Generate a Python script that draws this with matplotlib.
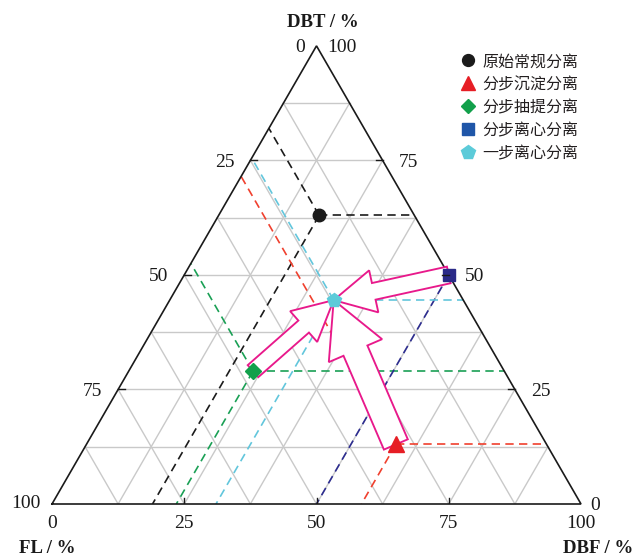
import numpy as np
import matplotlib
matplotlib.use("Agg")
import matplotlib.pyplot as plt
from matplotlib.patches import FancyArrow
from matplotlib.lines import Line2D

# Composition of each separation product (percent)
methods = ["原始常规分离", "分步沉淀分离", "分步抽提分离", "分步离心分离", "一步离心分离"]
dbt = [63.0, 13.0, 29.0, 50.0, 44.5]
fl = [18.0, 28.5, 47.5, 0.0, 24.5]
dbf = [19.0, 58.5, 23.5, 50.0, 31.0]
tick_values = [0, 25, 50, 75, 100]

marker_shapes = ["o", "^", "D", "s", "p"]
marker_sizes = [9.0, 11.0, 8.0, 8.5, 10.5]
marker_colors = ["#1b1b1b", "#e61e25", "#12a04b", "#2a2a88", "#5ccbd9"]
legend_colors = ["#1b1b1b", "#e61e25", "#12a04b", "#1f56a8", "#5ccbd9"]
guide_colors = ["#1b1b1b", "#f0402e", "#1aa055", "#2d2d90", "#62c6dc"]
arrow_color = "#e8198b"

W, H = 643, 556
fig = plt.figure(figsize=(W / 100, H / 100), dpi=100)
XL, XR, YB = 52, 581, 504
S = XR - XL
h = np.sqrt(3) / 2
ax = fig.add_axes([XL / W, (H - YB) / H, S / W, S * h / H])
ax.set_xlim(0, 1)
ax.set_ylim(0, h)
ax.axis("off")
px = 1.0 / S  # one pixel in data units

serif = "Liberation Serif"
cjk = ["Noto Sans CJK SC", "DejaVu Sans"]


def tern(t, f, b):
    """Ternary (DBT, FL, DBF) fractions -> cartesian."""
    return b + t / 2.0, t * h


# frame
ax.plot([0, 1, 0.5, 0], [0, 0, h, 0], color="#1a1a1a", lw=1.2,
        solid_joinstyle="miter", clip_on=False, zorder=3)

# grid every 12.5 %
for k in range(1, 8):
    v = k / 8.0
    gkw = dict(color="#c9c9c9", lw=1.0, zorder=1)
    ax.plot(*zip(tern(v, 1 - v, 0), tern(v, 0, 1 - v)), **gkw)
    ax.plot(*zip(tern(0, 1 - v, v), tern(1 - v, 0, v)), **gkw)
    ax.plot(*zip(tern(0, v, 1 - v), tern(1 - v, v, 0)), **gkw)

# tick marks and labels
tkw = dict(fontsize=14, family=serif, color="#1a1a1a", clip_on=False)
for v in tick_values:
    f = v / 100.0
    # FL along the left edge
    x, y = tern(1 - f, f, 0)
    off = 11 if v in (0, 100) else 16
    ax.text(x - off * px, y + (2 * px if v == 100 else 0), str(v),
            ha="right", va="center_baseline", **tkw)
    # DBT along the right edge
    x, y = tern(f, 0, 1 - f)
    off = 11 if v == 100 else (9 if v == 0 else 16)
    ax.text(x + off * px, y + (1 * px if v == 0 else 0), str(v),
            ha="left", va="center_baseline", **tkw)
    # DBF along the bottom edge
    x, y = tern(0, 1 - f, f)
    ax.text(x, y - 17 * px, str(v), ha="center", va="center_baseline", **tkw)
    if v in (25, 50, 75):
        x, y = tern(1 - f, f, 0)
        ax.plot([x, x + 7 * px], [y, y], color="#1a1a1a", lw=1.0, zorder=6)
        x, y = tern(f, 0, 1 - f)
        ax.plot([x, x - 7 * px], [y, y], color="#1a1a1a", lw=1.0, zorder=6)
        x, y = tern(0, 1 - f, f)
        ax.plot([x, x], [y, y + 6 * px], color="#1a1a1a", lw=1.0, zorder=6)

# reading guides from each point to the three axes
pts = []
for i in range(len(methods)):
    t, f, b = dbt[i] / 100, fl[i] / 100, dbf[i] / 100
    p = tern(t, f, b)
    pts.append(p)
    lkw = dict(color=guide_colors[i], lw=1.2, dashes=(5, 3.2), zorder=2)
    if f > 0:
        ax.plot(*zip(p, tern(t, 0, 1 - t)), **lkw)
        ax.plot(*zip(p, tern(1 - f, f, 0)), **lkw)
    ax.plot(*zip(p, tern(0, 1 - b, b)), **lkw)

# hollow arrows pointing to the one-step centrifugation result
target = pts[4]
arrow_specs = [(2, 16, 41, 40), (3, 17, 43, 41), (1, 26, 58, 55)]
for src, w, hw, hl in arrow_specs:
    sx, sy = pts[src]
    ax.add_patch(FancyArrow(sx, sy, target[0] - sx, target[1] - sy,
                            width=w * px, head_width=hw * px, head_length=hl * px,
                            length_includes_head=True, facecolor="white",
                            edgecolor=arrow_color, lw=1.35, joinstyle="miter",
                            zorder=4))

# data points
for i in range(len(methods)):
    ax.plot(pts[i][0], pts[i][1], marker=marker_shapes[i], ms=marker_sizes[i],
            color=marker_colors[i], mec=marker_colors[i], ls="none",
            zorder=5, clip_on=False)

# axis titles
fkw = dict(fontsize=13.5, family=serif, weight="bold", color="#1a1a1a",
           ha="center", va="baseline")
fig.text(323 / W, 1 - 27 / H, "DBT / %", **fkw)
fig.text(47.5 / W, 1 - 553 / H, "FL / %", **fkw)
fig.text(598 / W, 1 - 553 / H, "DBF / %", **fkw)

# legend
for i, name in enumerate(methods):
    yy = 1 - (60 + i * 23) / H
    fig.add_artist(Line2D([468 / W], [yy], marker=marker_shapes[i],
                          ms=marker_sizes[i] * 0.95, color=legend_colors[i],
                          ls="none", transform=fig.transFigure))
    fig.text(482 / W, yy, name, family=cjk, fontsize=11.5, color="#231f20",
             ha="left", va="center_baseline")

fig.savefig("out.png", dpi=100)
